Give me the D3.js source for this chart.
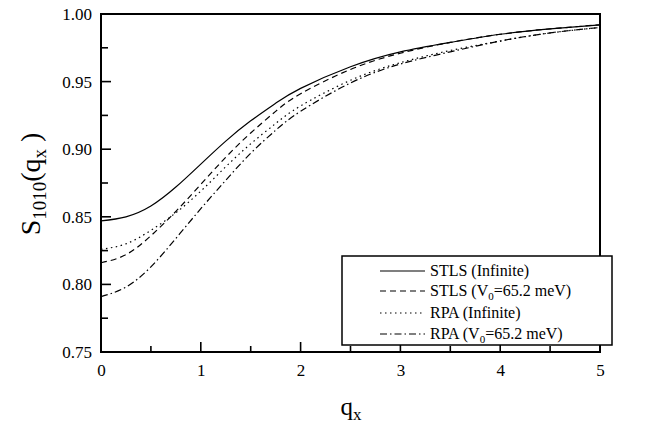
<!DOCTYPE html>
<html><head><meta charset="utf-8">
<script src="https://cdn.jsdelivr.net/npm/d3@7"></script>
<style>body{margin:0;background:#fff}svg{display:block}svg text{font-family:"Liberation Serif","Times New Roman","DejaVu Serif",serif !important;fill:#000}</style>
</head><body><svg id="c" width="648" height="428"></svg>
<script>
const qValues = [0,0.25,0.5,0.75,1,1.25,1.5,1.75,2,2.5,3,3.5,4,4.5,5];
const stlsInfinite = [0.847,0.850,0.858,0.872,0.889,0.906,0.921,0.934,0.945,0.961,0.972,0.979,0.985,0.989,0.992];
const stlsV0 = [0.816,0.822,0.836,0.854,0.874,0.894,0.912,0.928,0.941,0.959,0.971,0.979,0.985,0.989,0.992];
const rpaInfinite = [0.826,0.830,0.840,0.853,0.869,0.887,0.904,0.919,0.932,0.951,0.964,0.973,0.980,0.986,0.990];
const rpaV0 = [0.791,0.798,0.813,0.834,0.856,0.877,0.897,0.914,0.928,0.949,0.963,0.972,0.980,0.986,0.990];
const xTicks = [0,1,2,3,4,5];
const yTicks = [0.75,0.80,0.85,0.90,0.95,1.00];
const seriesNames = ["STLS (Infinite)","STLS (V0=65.2 meV)","RPA (Infinite)","RPA (V0=65.2 meV)"];
const dashes = ["none","6,4","1.5,3.5","7,3,1.5,3"];
const allSeries = [stlsInfinite, stlsV0, rpaInfinite, rpaV0];
const FONT = "'Liberation Serif','Times New Roman','DejaVu Serif',serif";

const svg = d3.select("#c");
const L=101,R=600,T=14,B=352;
const x = d3.scaleLinear().domain([0,5]).range([L,R]);
const y = d3.scaleLinear().domain([0.75,1.0]).range([B,T]);

// curves
const line = d3.line().x(d=>x(d[0])).y(d=>y(d[1])).curve(d3.curveNatural);
allSeries.forEach((s,i)=>{
  svg.append("path").datum(qValues.map((q,j)=>[q,s[j]]))
    .attr("d",line).attr("fill","none").attr("stroke","#000")
    .attr("stroke-width",1.2).attr("stroke-dasharray",dashes[i]);
});

// frame
svg.append("rect").attr("x",L).attr("y",T).attr("width",R-L).attr("height",B-T)
  .attr("fill","none").attr("stroke","#000").attr("stroke-width",2);

// axes
const xAxis = d3.axisBottom(x).tickValues(xTicks).tickSize(0).tickPadding(12).tickFormat(d3.format("d"));
const gx = svg.append("g").attr("transform",`translate(0,${B})`).call(xAxis).attr("font-family",FONT);
gx.select(".domain").remove();
gx.selectAll("text").attr("font-size",17).style("font-family",FONT);
const yAxis = d3.axisLeft(y).tickValues(yTicks).tickSize(0).tickPadding(9).tickFormat(d3.format(".2f"));
const gy = svg.append("g").attr("transform",`translate(${L},0)`).call(yAxis).attr("font-family",FONT);
gy.select(".domain").remove();
gy.selectAll("text").attr("font-size",17).style("font-family",FONT);

// inward ticks
d3.range(0,5.01,0.5).forEach(v=>{
  const major = Math.abs(v-Math.round(v))<1e-6;
  svg.append("line").attr("x1",x(v)).attr("x2",x(v)).attr("y1",B).attr("y2",B-(major?10:6))
    .attr("stroke","#000").attr("stroke-width",1.6);
});
d3.range(0.75,1.0001,0.025).forEach(v=>{
  const major = Math.abs(v*20-Math.round(v*20))<1e-6;
  svg.append("line").attr("x1",L).attr("x2",L+(major?10:7)).attr("y1",y(v)).attr("y2",y(v))
    .attr("stroke","#000").attr("stroke-width",1.6);
});

// axis titles
const xt = svg.append("text").attr("x",351).attr("y",415).attr("text-anchor","middle").attr("font-size",25).style("font-family",FONT);
xt.append("tspan").text("q");
xt.append("tspan").attr("font-size",17).attr("dy",5).text("x");

const yt = svg.append("text").attr("transform","translate(40,184) rotate(-90)").attr("text-anchor","middle").attr("font-size",28).style("font-family",FONT);
yt.append("tspan").text("S");
yt.append("tspan").attr("font-size",19).attr("dy",6).text("1010");
yt.append("tspan").attr("dy",-6).text("(q");
yt.append("tspan").attr("font-size",19).attr("dy",6).text("x");
yt.append("tspan").attr("dy",-6).text(" )");

// legend
const lgX=342, lgY=256, lgW=270, lgH=89;
svg.append("rect").attr("x",lgX).attr("y",lgY).attr("width",lgW).attr("height",lgH)
  .attr("fill","#fff").attr("stroke","#000").attr("stroke-width",1.5);
const rowY=[271,291,313,334];
seriesNames.forEach((n,i)=>{
  svg.append("line").attr("x1",380).attr("x2",425).attr("y1",rowY[i]).attr("y2",rowY[i])
    .attr("stroke","#000").attr("stroke-width",1.2).attr("stroke-dasharray",dashes[i]);
  const t = svg.append("text").attr("x",430).attr("y",rowY[i]+5).attr("font-size",16).style("font-family",FONT);
  const m = n.match(/^(.*\()V0(=.*)$/);
  if(m){
    t.append("tspan").text(m[1]+"V");
    t.append("tspan").attr("font-size",11).attr("dy",4).text("0");
    t.append("tspan").attr("dy",-4).text(m[2]);
  } else t.text(n);
});
</script></body></html>
